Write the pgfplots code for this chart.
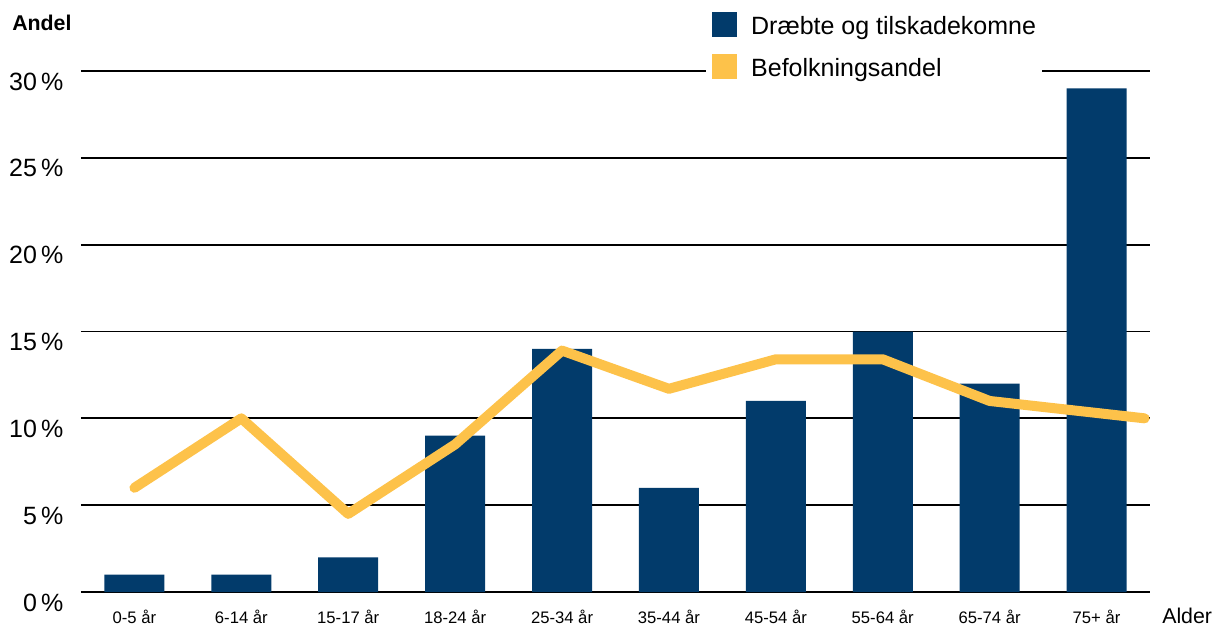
\documentclass[border=0pt]{standalone}
\usepackage{fontspec}
\setmainfont{Liberation Sans}
\usepackage{pgfplots}
\pgfplotsset{compat=1.18}
\definecolor{navy}{HTML}{023B6B}
\definecolor{gold}{HTML}{FDC24A}

\begin{document}
\begin{tikzpicture}
\useasboundingbox (-60.75pt,-25.5pt) rectangle (852pt,444pt);
\begin{axis}[
  at={(0pt,0pt)}, anchor=south west,
  scale only axis, width=801.75pt, height=390.75pt,
  xmin=-0.5, xmax=9.5, ymin=0, ymax=30,
  xtick={0,...,9},
  xticklabels={0-5 år,6-14 år,15-17 år,18-24 år,25-34 år,35-44 år,45-54 år,55-64 år,65-74 år,75+ år},
  ytick={0,5,...,30},
  yticklabels={0\,\%,5\,\%,10\,\%,15\,\%,20\,\%,25\,\%,30\,\%},
  axis line style={draw=none}, tick style={draw=none}, major tick length=0pt,
  ymajorgrids, major grid style={black, line width=1.4pt},
  xticklabel style={anchor=base, inner sep=0pt, yshift=-23.25pt, font=\fontsize{12.5}{15}\selectfont},
  yticklabel style={anchor=base east, inner sep=0pt, xshift=-13pt, yshift=-14.25pt, font=\fontsize{18.75}{22}\selectfont},
  clip=false,
  legend cell align=left,
  legend style={at={(axis description cs:0.5846,1.121)}, anchor=north west,
    draw=none, fill=white, inner xsep=4.5pt, inner ysep=3pt,
    font=\fontsize{18.75}{22}\selectfont, row sep=12.5pt,
    nodes={inner sep=0pt},
    /tikz/every odd column/.append style={column sep=10.5pt}},
]
% killed and injured, share per age group
\addplot[ybar, bar width=45pt, fill=navy, draw=none,
  legend image code/.code={\path[fill=navy, draw=none] (0pt,-7.9pt) rectangle (18.75pt,10.85pt);}]
  coordinates {(0,1) (1,1) (2,2) (3,9) (4,14) (5,6) (6,11) (7,15) (8,12) (9,29)};
\addlegendentry{Dræbte og tilskadekomne}
% population share
\addplot[gold, line width=7.5pt, line cap=round, line join=round,
  legend image code/.code={\path[fill=gold, draw=none] (0pt,-7.9pt) rectangle (18.75pt,10.85pt);}]
  coordinates {(0,6.0) (1,10.0) (2,4.5) (3,8.5) (4,13.9) (5,11.7) (6,13.4) (7,13.4) (8,11.0) (9.45,10.0)};
\addlegendentry{Befolkningsandel}
\end{axis}
\node[anchor=base west, inner sep=0pt, font=\bfseries\fontsize{16}{19}\selectfont] at (-51.75pt,420.75pt) {Andel};
\node[anchor=base west, inner sep=0pt, font=\fontsize{16}{19}\selectfont] at (810.75pt,-23.25pt) {Alder};
\end{tikzpicture}
\end{document}
